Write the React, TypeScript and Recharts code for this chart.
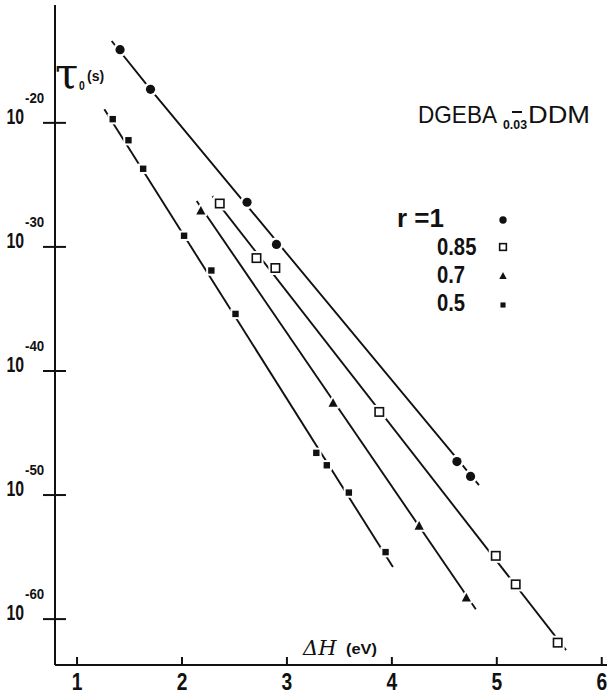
import React from 'react';
import { ComposedChart, Scatter, XAxis, YAxis } from 'recharts';

// tau_0 vs activation enthalpy, DGEBA-DDM. y values are log10(tau_0 / s).

const xTicks = [1, 2, 3, 4, 5, 6];
const yTicks = [-60, -50, -40, -30, -20];

const r1Points = [
  { x: 1.41, y: -14.1 }, { x: 1.70, y: -17.3 }, { x: 2.62, y: -26.4 },
  { x: 2.90, y: -29.8 }, { x: 4.62, y: -47.3 }, { x: 4.75, y: -48.5 },
];
const r1Line = [{ x: 1.33, y: -13.4 }, { x: 1.70, y: -17.3 }, { x: 4.83, y: -49.2 }];

const r085Points = [
  { x: 2.36, y: -26.5 }, { x: 2.71, y: -30.9 }, { x: 2.89, y: -31.7 },
  { x: 3.88, y: -43.3 }, { x: 4.99, y: -54.9 }, { x: 5.18, y: -57.2 },
  { x: 5.58, y: -61.9 },
];
const r085Line = [{ x: 2.29, y: -25.9 }, { x: 5.66, y: -62.5 }];

const r07Points = [
  { x: 2.18, y: -27.1 }, { x: 3.44, y: -42.6 }, { x: 4.26, y: -52.5 }, { x: 4.71, y: -58.3 },
];
const r07Line = [{ x: 2.14, y: -26.3 }, { x: 4.80, y: -59.2 }];

const r05Points = [
  { x: 1.34, y: -19.7 }, { x: 1.49, y: -21.4 }, { x: 1.63, y: -23.7 },
  { x: 2.02, y: -29.1 }, { x: 2.28, y: -31.9 }, { x: 2.51, y: -35.4 },
  { x: 3.28, y: -46.6 }, { x: 3.38, y: -47.6 }, { x: 3.59, y: -49.8 },
  { x: 3.94, y: -54.6 },
];
const r05Line = [{ x: 1.26, y: -18.9 }, { x: 4.01, y: -55.8 }];

const SANS = "'Liberation Sans', Arial, sans-serif";
const INK = '#111';

// condensed bold text: squeeze a normal face horizontally
const NText = ({ x, y, sx = 0.75, size, anchor = 'start', weight = 700, children }: any) => (
  <g transform={`translate(${x},${y}) scale(${sx},1)`}>
    <text x={0} y={0} textAnchor={anchor} fontFamily={SANS} fontWeight={weight} fontSize={size} fill={INK}>
      {children}
    </text>
  </g>
);

// markers carry a white halo so the fitted lines look broken around them
const Dot = ({ cx, cy, s = 1 }: any) => (
  <circle cx={cx} cy={cy} r={4.6 * s} fill={INK} stroke="#fff" strokeWidth={5 * s} paintOrder="stroke" />
);
const OpenSquare = ({ cx, cy, s = 1 }: any) => (
  <g>
    <rect x={cx - 7 * s} y={cy - 7 * s} width={14 * s} height={14 * s} fill="#fff" />
    <rect x={cx - 4.2 * s} y={cy - 4.2 * s} width={8.4 * s} height={8.4 * s} fill="#fff" stroke={INK} strokeWidth={1.6} />
  </g>
);
const Triangle = ({ cx, cy, s = 1 }: any) => (
  <polygon
    points={`${cx},${cy - 5 * s} ${cx + 4.6 * s},${cy + 3.6 * s} ${cx - 4.6 * s},${cy + 3.6 * s}`}
    fill={INK} stroke="#fff" strokeWidth={4 * s} paintOrder="stroke" strokeLinejoin="round"
  />
);
const SmallSquare = ({ cx, cy, s = 1 }: any) => (
  <rect x={cx - 3.2 * s} y={cy - 3.2 * s} width={6.4 * s} height={6.4 * s}
    fill={INK} stroke="#fff" strokeWidth={4 * s} paintOrder="stroke" />
);
const NoMark = () => <g />;

const XTick = ({ x, y, payload }: any) => (
  <g>
    <line x1={x} x2={x} y1={y} y2={y - 8} stroke={INK} strokeWidth={2} />
    <NText x={x} y={y + 25} sx={0.8} size={24} anchor="middle">{payload.value}</NText>
  </g>
);

const YTick = ({ x, y, payload }: any) => (
  <g>
    <line x1={x - 12} x2={x + 11} y1={y} y2={y} stroke={INK} strokeWidth={2} />
    <NText x={x - 31} y={y + 1} sx={0.72} size={22} anchor="end">10</NText>
    <NText x={x - 30} y={y - 20} sx={0.95} size={14}>{payload.value}</NText>
  </g>
);

const lineStyle = { stroke: INK, strokeWidth: 1.9 };

export default function App() {
  return (
    <div style={{ position: 'absolute', left: 0, top: 0, width: 607, height: 695, background: '#fff' }}>
      <ComposedChart width={607} height={695} margin={{ top: 5, right: 0, bottom: 0, left: 0 }}>
        <XAxis
          dataKey="x" type="number" domain={[0.79, 6.05]} ticks={xTicks} interval={0}
          allowDataOverflow height={30} tickSize={0} tickMargin={0} tickLine={false}
          axisLine={{ stroke: INK, strokeWidth: 2 }} tick={<XTick />}
        />
        <XAxis
          xAxisId="top" orientation="top" dataKey="x" type="number" domain={[0.79, 6.05]}
          height={0} tick={false} tickLine={false} axisLine={{ stroke: INK, strokeWidth: 2 }}
        />
        <YAxis
          dataKey="y" type="number" domain={[-63.7, -10.5]} ticks={yTicks} interval={0}
          allowDataOverflow width={55} tickSize={0} tickMargin={0} tickLine={false}
          axisLine={{ stroke: INK, strokeWidth: 2 }} tick={<YTick />}
        />

        <Scatter data={r1Line} line={lineStyle} shape={NoMark} isAnimationActive={false} />
        <Scatter data={r085Line} line={lineStyle} shape={NoMark} isAnimationActive={false} />
        <Scatter data={r07Line} line={lineStyle} shape={NoMark} isAnimationActive={false} />
        <Scatter data={r05Line} line={lineStyle} shape={NoMark} isAnimationActive={false} />

        <Scatter data={r1Points} shape={(p: any) => <Dot {...p} />} isAnimationActive={false} />
        <Scatter data={r085Points} shape={(p: any) => <OpenSquare {...p} />} isAnimationActive={false} />
        <Scatter data={r07Points} shape={(p: any) => <Triangle {...p} />} isAnimationActive={false} />
        <Scatter data={r05Points} shape={(p: any) => <SmallSquare {...p} />} isAnimationActive={false} />
      </ComposedChart>

      <svg width={607} height={695} style={{ position: 'absolute', left: 0, top: 0, pointerEvents: 'none' }}>
        {/* axis titles */}
        <text x={55} y={88} fontFamily="'DejaVu Serif', serif" fontSize={42} fill={INK}>τ</text>
        <NText x={79} y={90} sx={0.8} size={13}>0</NText>
        <text x={87} y={81} fontFamily={SANS} fontWeight={700} fontSize={14} fill={INK}>(s)</text>

        <text x={303} y={655} fontFamily="'DejaVu Serif', serif" fontStyle="italic" fontSize={21} fill={INK}>ΔH</text>
        <text x={346} y={654} fontFamily={SANS} fontWeight={700} fontSize={15} textLength={31}
          lengthAdjust="spacingAndGlyphs" fill={INK}>(eV)</text>

        {/* system label */}
        <text x={418} y={123} fontFamily={SANS} fontSize={24} textLength={79}
          lengthAdjust="spacingAndGlyphs" fill={INK}>DGEBA</text>
        <text x={503} y={129} fontFamily={SANS} fontWeight={700} fontSize={13} textLength={24}
          lengthAdjust="spacingAndGlyphs" fill={INK}>0.03</text>
        <line x1={512} x2={522} y1={112} y2={112} stroke={INK} strokeWidth={2} />
        <text x={528} y={123} fontFamily={SANS} fontSize={24} textLength={62}
          lengthAdjust="spacingAndGlyphs" fill={INK}>DDM</text>

        {/* legend */}
        <NText x={397} y={227} sx={1.0} size={26}>r =1</NText>
        <NText x={437} y={255} sx={0.88} size={23}>0.85</NText>
        <NText x={437} y={283} sx={0.88} size={23}>0.7</NText>
        <NText x={437} y={311} sx={0.88} size={23}>0.5</NText>
        <Dot cx={503} cy={220} s={0.8} />
        <OpenSquare cx={503} cy={247} s={0.8} />
        <Triangle cx={503} cy={276} s={0.8} />
        <SmallSquare cx={503} cy={305} s={0.8} />
      </svg>
    </div>
  );
}
